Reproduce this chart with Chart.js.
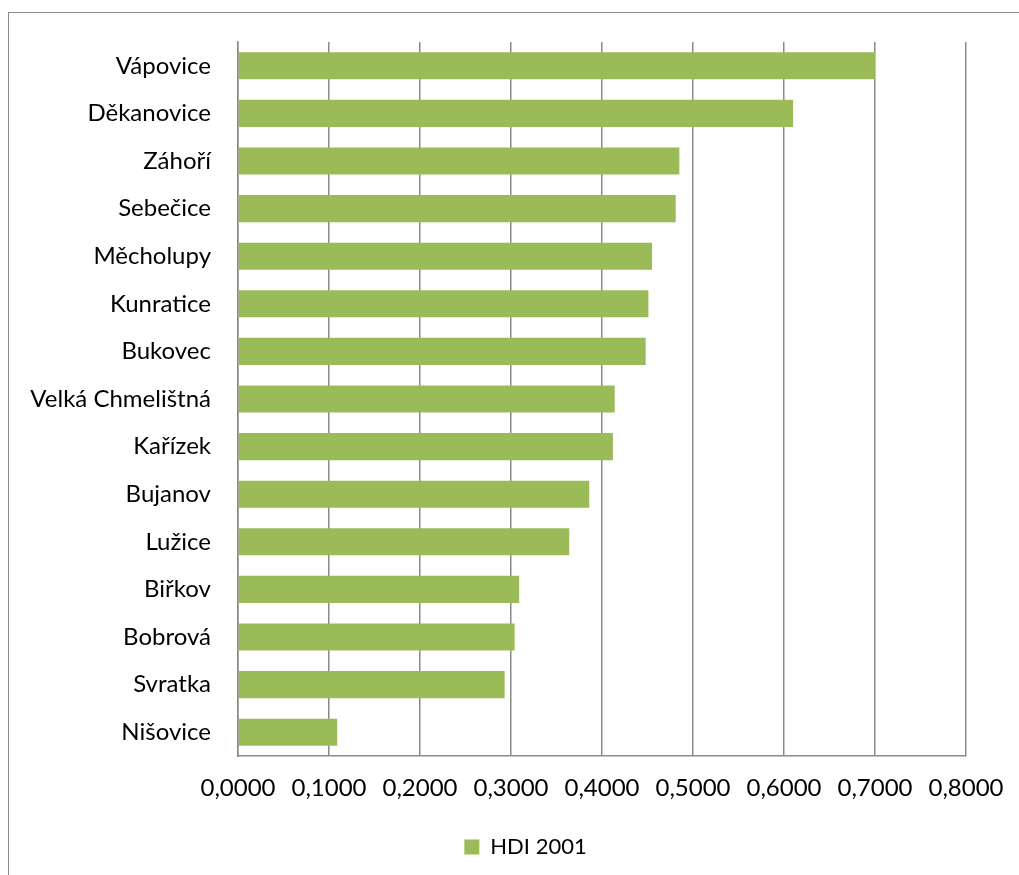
<!DOCTYPE html>
<html lang="cs">
<head>
<meta charset="utf-8">
<title>HDI 2001</title>
<script src="https://cdn.jsdelivr.net/npm/chart.js@4/dist/chart.umd.min.js"></script>
<style>
    html, body { margin: 0; padding: 0; background: #fff; overflow: hidden; }
    .frame {
        position: absolute;
        left: 8px;
        top: 12px;
        width: 1034px;
        height: 900px;
        border: 1px solid #8c8c8c;
    }
    canvas { display: block; }
</style>
</head>
<body>
<div class="frame">
    <canvas id="chart-hdi" width="1034" height="900"></canvas>
</div>
<script>
// ── 資料 ──
const obce = [
    'Vápovice', 'Děkanovice', 'Záhoří', 'Sebečice', 'Měcholupy',
    'Kunratice', 'Bukovec', 'Velká Chmelištná', 'Kařízek', 'Bujanov',
    'Lužice', 'Biřkov', 'Bobrová', 'Svratka', 'Nišovice',
];
const hdi2001 = [
    0.700, 0.610, 0.485, 0.481, 0.455,
    0.451, 0.448, 0.414, 0.412, 0.386,
    0.364, 0.309, 0.304, 0.293, 0.109,
];
const osaX = { min: 0, max: 0.8, krok: 0.1 };

const ZELENA = '#9bbb59';
const SEDA = '#8a8a8a';
const FONT = 'Lato, Carlito, Calibri, sans-serif';

// 0.1 -> "0,1000"
function formatCz(v) {
    return Number(v).toFixed(4).replace('.', ',');
}

// legenda je v Excelu vycentrovaná na celou šířku grafu, posuneme ji
const posunLegendy = {
    id: 'posunLegendy',
    afterLayout(chart) {
        if (!chart.legend) return;
        chart.legend.left += 38;
        chart.legend.right += 38;
    },
};

// ── 圖表 ──
const ctx = document.getElementById('chart-hdi').getContext('2d');
new Chart(ctx, {
    type: 'bar',
    data: {
        labels: obce,
        datasets: [{
            label: 'HDI 2001',
            data: hdi2001,
            backgroundColor: ZELENA,
            borderWidth: 0,
            categoryPercentage: 1,
            barPercentage: 0.57,
        }],
    },
    plugins: [posunLegendy],
    options: {
        indexAxis: 'y',
        responsive: false,
        animation: false,
        layout: { padding: { left: 0, right: 77, top: 29, bottom: 45 } },
        plugins: {
            tooltip: { enabled: false },
            legend: {
                position: 'bottom',
                labels: {
                    boxWidth: 15,
                    boxHeight: 15,
                    padding: 18,
                    color: '#000',
                    font: { family: FONT, size: 22 },
                },
            },
        },
        scales: {
            x: {
                min: osaX.min,
                max: osaX.max,
                ticks: {
                    stepSize: osaX.krok,
                    padding: 18,
                    color: '#000',
                    font: { family: FONT, size: 24 },
                    callback: v => formatCz(v),
                },
                grid: { color: SEDA, lineWidth: 1.5, drawTicks: false },
                border: { color: SEDA, width: 1.5 },
                afterFit: s => {
                    s.height = 62;
                    s.paddingLeft = 0;
                    s.paddingRight = 0;
                },
            },
            y: {
                ticks: {
                    padding: 27,
                    color: '#000',
                    font: { family: FONT, size: 24 },
                },
                grid: { display: false, drawTicks: false },
                border: { color: SEDA, width: 1.5 },
                afterFit: s => {
                    s.width = 229;
                    s.paddingTop = 0;
                    s.paddingBottom = 0;
                },
            },
        },
    },
});
</script>
</body>
</html>
